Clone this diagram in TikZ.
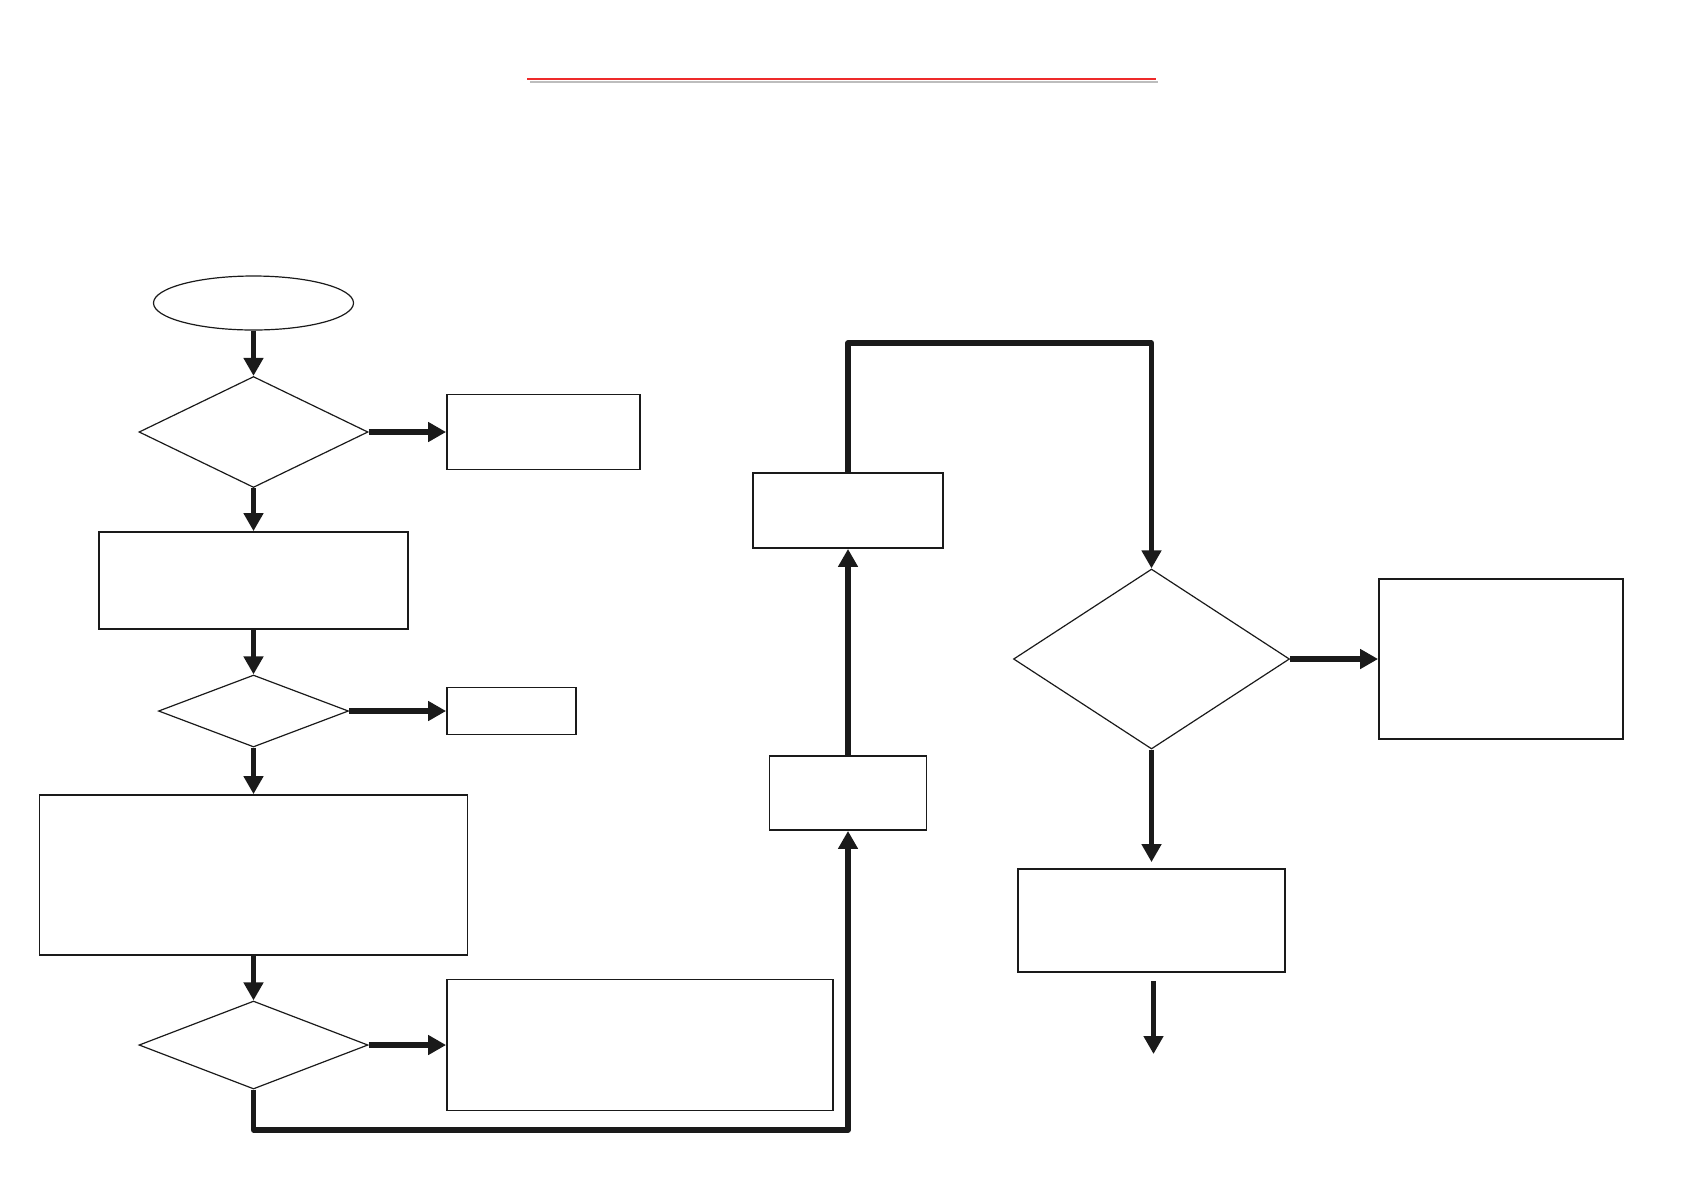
\documentclass[tikz,border=0pt]{standalone}
\usepackage{tikz}
\usetikzlibrary{arrows.meta,shapes.geometric,calc}
\definecolor{fk}{HTML}{1a1a1a}
\definecolor{fr}{HTML}{ee2a2a}
\definecolor{fg}{HTML}{bdbdbd}
\begin{document}
\begin{tikzpicture}[x=0.5pt,y=-0.5pt,
  box/.style={draw=fk,line width=0.9pt,rectangle,inner sep=0pt},
  dec/.style={draw=fk,line width=0.6pt,diamond,inner sep=0pt},
  flow/.style={draw=fk,line width=2.6pt,line join=round,-{Triangle[length=9pt,width=9.5pt]}}]
\useasboundingbox (0,0) rectangle (1684,1190);
% title rule
\draw[fg,line width=1.3pt] (530,82) -- (1158,82);
\draw[fr,line width=1.3pt] (527,79) -- (1156,79);
% left column
\node[draw=fk,line width=0.6pt,ellipse,minimum width=100pt,minimum height=27pt] (start) at (253.5,303) {};
\node[dec,minimum width=114.5pt,minimum height=55.5pt] (d1) at (253.5,432) {};
\node[box,minimum width=96.5pt,minimum height=37.5pt] (b1) at (543.5,432) {};
\node[box,minimum width=154.5pt,minimum height=48.5pt] (b2) at (253.5,580.5) {};
\node[dec,minimum width=95pt,minimum height=36pt] (d2) at (253.5,711) {};
\node[box,minimum width=64.5pt,minimum height=23.5pt] (b3) at (511.5,711) {};
\node[box,minimum width=214pt,minimum height=80pt] (b4) at (253.5,875) {};
\node[dec,minimum width=114.5pt,minimum height=44pt] (d3) at (253.5,1045) {};
\node[box,minimum width=193pt,minimum height=65.5pt] (b5) at (640,1045) {};
% middle column
\node[box,minimum width=78.5pt,minimum height=37pt] (b6) at (848,793) {};
\node[box,minimum width=95pt,minimum height=37.5pt] (b7) at (848,510.5) {};
% right column
\node[dec,minimum width=138pt,minimum height=90pt] (d4) at (1151.5,659) {};
\node[box,minimum width=122pt,minimum height=80pt] (b8) at (1501,659) {};
\node[box,minimum width=133.5pt,minimum height=51.5pt] (b9) at (1151.5,920.5) {};
\coordinate (c1) at (848,1130);
\coordinate (c2) at (848,343);
\coordinate (e1) at (1153.5,981);
\coordinate (e2) at (1153.5,1054);
% connectors
\draw[flow] (start) -- (d1);
\draw[flow] (d1.east) -- (b1.west);
\draw[flow] (d1.south) -- (b2.north);
\draw[flow] (b2.south) -- (d2.north);
\draw[flow] (d2.east) -- (b3.west);
\draw[flow] (d2.south) -- (b4.north);
\draw[flow] (b4.south) -- (d3.north);
\draw[flow] (d3.east) -- (b5.west);
\draw[flow] (d3.south) |- (c1) -- (b6.south);
\draw[flow] (b6.north) -- (b7.south);
\draw[flow] (b7.north) -- (c2) -| (d4.north);
\draw[flow] (d4.east) -- (b8.west);
\draw[flow,shorten >=3pt] (d4.south) -- (b9.north);
\draw[flow] (e1) -- (e2);
\end{tikzpicture}
\end{document}
